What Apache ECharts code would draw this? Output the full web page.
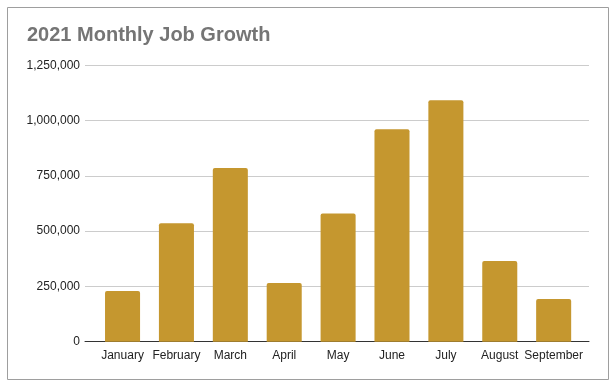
<!DOCTYPE html>
<html><head><meta charset="utf-8">
<script src="https://cdn.jsdelivr.net/npm/echarts@6/dist/echarts.min.js"></script>
<style>html,body{margin:0;padding:0;background:#fff}#c{width:613px;height:386px}</style>
</head><body><div id="c"></div>
<script>
const categories = ['January','February','March','April','May','June','July','August','September'];
const jobs = [229000, 535000, 785000, 265000, 580000, 960000, 1091000, 365000, 193000];
const yTicks = [0, 250000, 500000, 750000, 1000000, 1250000];

const chart = echarts.init(document.getElementById('c'), null, {renderer:'canvas'});
const fmt = v => v.toLocaleString('en-US');
const font = 'Arial, "Liberation Sans", sans-serif';
chart.setOption({
  animation: false,
  title: {
    text: '2021 Monthly Job Growth', left: 22, top: 20,
    textStyle: {fontFamily: font, fontSize: 20, fontWeight: 'bold', color: '#757575'}
  },
  graphic: [{type:'rect', shape:{x:7.5,y:7.5,width:601,height:372}, style:{fill:'none', stroke:'#9e9e9e', lineWidth:1}, z:-1}],
  grid: [
    {left: 85, right: 24, top: 65.2, bottom: 44.3},
    {left: 95.6, right: 32.4, top: 65.2, bottom: 44.3}
  ],
  xAxis: [
    {gridIndex:0, type:'value', min:0, max:1, show:true, axisLine:{show:true, lineStyle:{color:'#333', width:1}}, axisTick:{show:false}, axisLabel:{show:false}, splitLine:{show:false}},
    {gridIndex:1, type:'category', data: categories, axisLine:{show:false}, axisTick:{show:false},
     axisLabel:{interval:0, margin:8, fontFamily: font, fontSize:12, color:'#222'}}
  ],
  yAxis: [
    {gridIndex:0, type:'value', min:0, max:1250000, interval:250000, axisLine:{show:false}, axisTick:{show:false},
     axisLabel:{margin:5, fontFamily: font, fontSize:12, color:'#222', formatter: fmt, customValues: yTicks},
     splitLine:{lineStyle:{color:'#cccccc', width:1}}},
    {gridIndex:1, type:'value', min:0, max:1250000, interval:250000, show:false, splitLine:{show:false}}
  ],
  series: [
    {type:'bar', xAxisIndex:1, yAxisIndex:1, data: jobs, barWidth:'65%',
     itemStyle:{color:'#c5972f', borderRadius:[2,2,0,0]}, z:1}
  ]
});
</script></body></html>
